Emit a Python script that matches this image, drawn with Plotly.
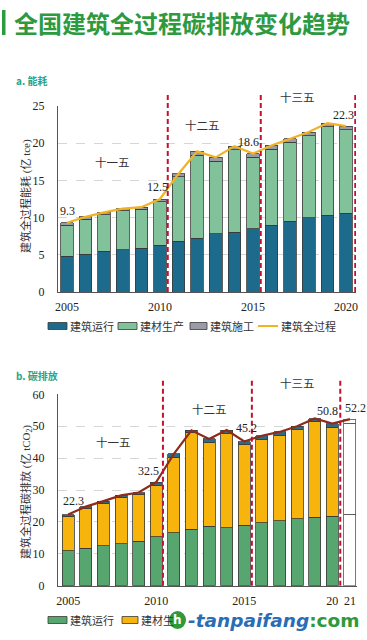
import plotly.graph_objects as go

# ---------------- data ----------------
years_a = list(range(2005, 2021))
op_a = [4.8, 5.1, 5.5, 5.7, 5.9, 6.3, 6.8, 7.2, 7.8, 8.0, 8.5, 9.0, 9.5, 10.0, 10.3, 10.6]
mat_a = [4.2, 4.7, 4.9, 5.2, 5.2, 5.8, 8.7, 11.2, 9.8, 11.1, 9.6, 10.2, 10.6, 11.0, 11.9, 11.2]
con_a = [0.3, 0.3, 0.3, 0.3, 0.3, 0.4, 0.4, 0.5, 0.5, 0.5, 0.5, 0.5, 0.5, 0.5, 0.5, 0.5]
total_a = [9.3, 10.1, 10.7, 11.2, 11.4, 12.5, 15.9, 18.9, 18.1, 19.6, 18.6, 19.7, 20.6, 21.5, 22.7, 22.3]

years_b = list(range(2005, 2022))
op_b = [10.9, 11.7, 12.5, 13.2, 14.0, 15.3, 16.6, 17.7, 18.6, 18.2, 18.9, 19.8, 20.4, 21.0, 21.4, 21.8, 22.4]
mat_b = [10.9, 12.5, 13.3, 14.6, 14.7, 16.2, 23.7, 30.4, 26.4, 29.6, 25.3, 26.0, 26.7, 27.9, 30.1, 27.9, 28.6]
con_b = [0.5, 0.6, 0.7, 0.5, 0.5, 1.0, 1.0, 0.6, 1.0, 1.0, 1.0, 1.2, 1.1, 1.1, 0.9, 1.1, 1.2]
total_b = [22.3, 24.8, 26.5, 28.3, 29.2, 32.5, 41.3, 48.7, 46.0, 48.8, 45.2, 47.0, 48.2, 50.0, 52.4, 50.8, 52.2]

labels_a = {2005: "9.3", 2010: "12.5", 2015: "18.6", 2020: "22.3"}
labels_b = {2005: "22.3", 2010: "32.5", 2015: "45.2", 2020: "50.8", 2021: "52.2"}
periods = ["十一五", "十二五", "十三五"]
series_names = ["建筑运行", "建材生产", "建筑施工", "建筑全过程"]

W, H = 367, 640
SERIF = "Liberation Serif, Noto Sans CJK SC"
CJK = "Noto Sans CJK SC"


def px(x):
    return x / W


def py(y):
    return 1 - y / H


fig = go.Figure()

# ---------------- panel a ----------------
ca = {"op": "#1d6b8c", "mat": "#82c29b", "con": "#9b9ba8", "line": "#f0b323"}
for vals, col, nm in [(op_a, ca["op"], series_names[0]), (mat_a, ca["mat"], series_names[1]),
                      (con_a, ca["con"], series_names[2])]:
    fig.add_trace(go.Bar(x=years_a, y=vals, marker=dict(color=col, line=dict(color="#3a3a3a", width=0.8)),
                         width=0.68, name=nm, showlegend=False, xaxis="x", yaxis="y"))
fig.add_trace(go.Scatter(x=years_a, y=total_a, mode="lines", line=dict(color=ca["line"], width=2.2),
                         showlegend=False, xaxis="x", yaxis="y"))

# ---------------- panel b ----------------
nb = len(years_b)
cb = {"op": "#58a66f", "mat": "#f6b40c", "con": "#2c6c8a", "line": "#8e2c1c"}
for vals, col, nm in [(op_b, cb["op"], series_names[0]), (mat_b, cb["mat"], series_names[1]),
                      (con_b, cb["con"], series_names[2])]:
    colors = [col] * (nb - 1) + ["white"]
    lcols = ["#3a3a3a"] * (nb - 1) + ["#555555"]
    fig.add_trace(go.Bar(x=years_b, y=vals, marker=dict(color=colors, line=dict(color=lcols, width=0.8)),
                         width=0.68, name=nm, showlegend=False, xaxis="x2", yaxis="y2"))
fig.add_trace(go.Scatter(x=years_b, y=total_b, mode="lines", line=dict(color=cb["line"], width=2.2),
                         showlegend=False, xaxis="x2", yaxis="y2"))

axis_common = dict(showline=True, linecolor="#555555", linewidth=1, ticks="", zeroline=False, automargin=False,
                   tickfont=dict(family=SERIF, size=12, color="#222222"))

fig.update_layout(
    width=W, height=H, margin=dict(l=0, r=0, t=0, b=0, pad=0, autoexpand=False),
    paper_bgcolor="white", plot_bgcolor="white", barmode="stack", bargap=0.3, showlegend=False,
    xaxis=dict(domain=[px(58), px(356)], range=[2004.52, 2020.54], tickvals=[2005, 2010, 2015, 2020],
               showgrid=False, anchor="y", ticklabelstandoff=4, **axis_common),
    yaxis=dict(domain=[py(292), py(106)], range=[0, 25], tickvals=[0, 5, 10, 15, 20, 25],
               showgrid=True, gridcolor="#d6d6d6", griddash="dash", gridwidth=0.8, anchor="x",
               ticklabelstandoff=10, **axis_common),
    xaxis2=dict(domain=[px(58), px(357)], range=[2004.42, 2021.4], tickvals=[2005, 2010, 2015, 2020, 2021],
                ticktext=["2005", "2010", "2015", "20", "21"], showgrid=False, anchor="y2",
                ticklabelstandoff=4, **axis_common),
    yaxis2=dict(domain=[py(585.7), py(394.3)], range=[0, 60], tickvals=[0, 10, 20, 30, 40, 50, 60],
                showgrid=True, gridcolor="#d6d6d6", griddash="dash", gridwidth=0.8, anchor="x2",
                ticklabelstandoff=10, **axis_common),
)

shapes = []
# title bar
shapes.append(dict(type="rect", xref="paper", yref="paper", x0=px(2), x1=px(5.5), y0=py(35), y1=py(10),
                   fillcolor="#2e9a3f", line=dict(width=0)))
# red dashed period separators
for xv in [2010.42, 2015.42, 2020.5]:
    shapes.append(dict(type="line", xref="x", yref="paper", x0=xv, x1=xv, y0=py(292), y1=py(93),
                       line=dict(color="#c8102e", width=2, dash="5px,3px")))
for xv in [2010.38, 2015.43, 2020.45]:
    shapes.append(dict(type="line", xref="x2", yref="paper", x0=xv, x1=xv, y0=py(585.7), y1=py(380),
                       line=dict(color="#c8102e", width=2, dash="5px,3px")))

annotations = []


def ann(text, x, y, size, family=SERIF, color="#222222", xanchor="center", angle=0):
    annotations.append(dict(text=text, xref="paper", yref="paper", x=px(x), y=py(y), xanchor=xanchor,
                            yanchor="middle", showarrow=False, textangle=angle,
                            font=dict(family=family, size=size, color=color)))


ann("<b>全国建筑全过程碳排放变化趋势</b>", 12, 22, 24, family=CJK, color="#2e9a3f", xanchor="left")
ann("<b>a. 能耗</b>", 14, 80, 10, family=CJK, color="#2aa38a", xanchor="left")
ann("<b>b. 碳排放</b>", 14, 375, 10, family=CJK, color="#2aa38a", xanchor="left")
# axis titles
ann("建筑全过程能耗 (亿 tce)", 26, 196, 11, color="#333333", angle=-90)
ann("建筑全过程碳排放 (亿 tCO<sub>2</sub>)", 26, 492, 11, color="#333333", angle=-90)

# value labels
pos_a = {2005: (67, 211), 2010: (157, 187), 2015: (248, 142), 2020: (343, 115)}
for yr, t in labels_a.items():
    ann(t, pos_a[yr][0], pos_a[yr][1], 12)
pos_b = {2005: (73, 501), 2010: (148, 471), 2015: (247, 428), 2020: (327, 411), 2021: (355, 408)}
for yr, t in labels_b.items():
    ann(t, pos_b[yr][0], pos_b[yr][1], 12)

# period labels
for t, (xx, yy) in zip(periods, [(112, 162), (203, 125), (297, 97)]):
    ann(t, xx, yy, 11.5, family=CJK, color="#333333")
for t, (xx, yy) in zip(periods, [(113, 442), (209, 409), (297, 383)]):
    ann(t, xx, yy, 11.5, family=CJK, color="#333333")


# manual legends
def legend_box(x0, x1, yc, col):
    shapes.append(dict(type="rect", xref="paper", yref="paper", x0=px(x0), x1=px(x1), y0=py(yc + 3.5),
                       y1=py(yc - 3.5), fillcolor=col, line=dict(color="#3a3a3a", width=0.8)))


def legend_text(x, yc, t):
    ann(t, x, yc, 11, family=CJK, color="#333333", xanchor="left")


ya = 326
legend_box(48, 67, ya, ca["op"]); legend_text(67.5, ya, series_names[0])
legend_box(118, 137, ya, ca["mat"]); legend_text(137.5, ya, series_names[1])
legend_box(190, 207, ya, ca["con"]); legend_text(207.5, ya, series_names[2])
shapes.append(dict(type="line", xref="paper", yref="paper", x0=px(258), x1=px(278), y0=py(ya), y1=py(ya),
                   line=dict(color=ca["line"], width=2)))
legend_text(278.5, ya, series_names[3])

yb = 620
legend_box(48, 67, yb, cb["op"]); legend_text(67.5, yb, series_names[0])
legend_box(122, 138, yb, cb["mat"]); legend_text(138.5, yb, "建材生")

# watermark
shapes.append(dict(type="circle", xref="paper", yref="paper", x0=px(169), x1=px(186), y0=py(629), y1=py(611),
                   fillcolor="#2f9a3c", line=dict(width=0)))
ann("<b>h</b>", 177.5, 620, 12, family="DejaVu Sans", color="white")
ann("<b><i>-tanpaifang</i></b><b style='color:#2f9a3c'>:com</b>", 186, 620, 18.5, family="DejaVu Sans",
    color="#2a6db5", xanchor="left")

fig.update_layout(shapes=shapes, annotations=annotations)
fig.write_html("out.html", config={"displayModeBar": False},
               post_script="document.body.style.margin='0';document.body.style.overflow='hidden';")
